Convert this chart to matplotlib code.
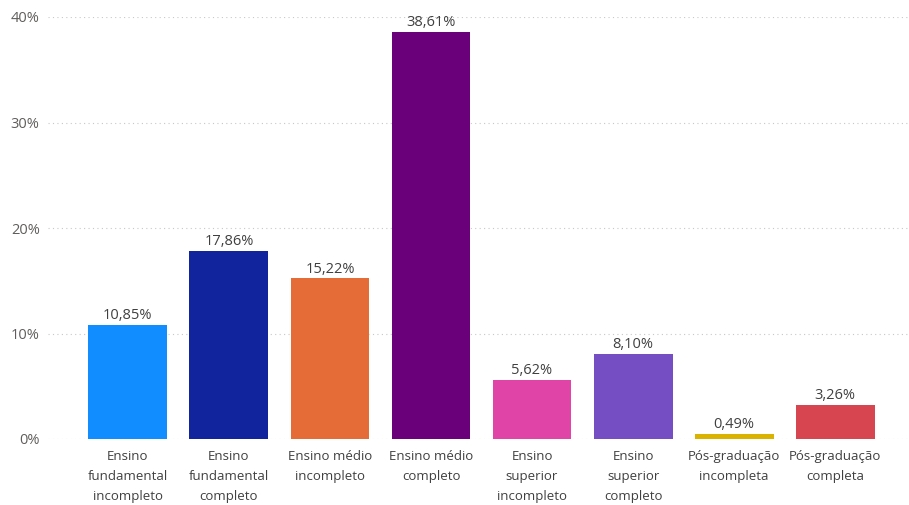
import matplotlib.pyplot as plt

# Escolaridade (% do total)
categorias = [
    "Ensino\nfundamental\nincompleto",
    "Ensino\nfundamental\ncompleto",
    "Ensino médio\nincompleto",
    "Ensino médio\ncompleto",
    "Ensino\nsuperior\nincompleto",
    "Ensino\nsuperior\ncompleto",
    "Pós-graduação\nincompleta",
    "Pós-graduação\ncompleta",
]
percentuais = [10.85, 17.86, 15.22, 38.61, 5.62, 8.10, 0.49, 3.26]
cores = ["#118DFF", "#12239E", "#E66C37", "#6B007B",
         "#E044A7", "#744EC2", "#D9B300", "#D64550"]
yticks = [0, 10, 20, 30, 40]

plt.rcParams['font.family'] = ['Open Sans', 'DejaVu Sans']

fig = plt.figure(figsize=(9.09, 5.05), dpi=100)
ax = fig.add_axes([48 / 909, 66 / 505, 861 / 909, 422 / 505])

x = range(len(categorias))
ax.bar(x, percentuais, width=0.78, color=cores, zorder=2)

for xi, v in zip(x, percentuais):
    ax.text(xi, v + 0.15, f"{v:.2f}%".replace(".", ","),
            ha="center", va="bottom", fontsize=10.5, color="#404040")

ax.set_xlim(-0.79, 7.73)
ax.set_ylim(0, 40)
ax.set_yticks(yticks)
ax.set_yticklabels([f"{t}%" for t in yticks], fontsize=10.5, color="#605E5C")
ax.set_xticks(list(x))
ax.set_xticklabels(categorias, fontsize=9.5, color="#404040", linespacing=1.7)
ax.tick_params(axis="both", length=0)
ax.tick_params(axis="x", pad=8)
ax.tick_params(axis="y", pad=6)

ax.grid(axis="y", linestyle=(0, (1, 3)), color="#C8C8C8", linewidth=0.8, zorder=0)
for s in ax.spines.values():
    s.set_visible(False)

fig.savefig("out.png", dpi=100)
